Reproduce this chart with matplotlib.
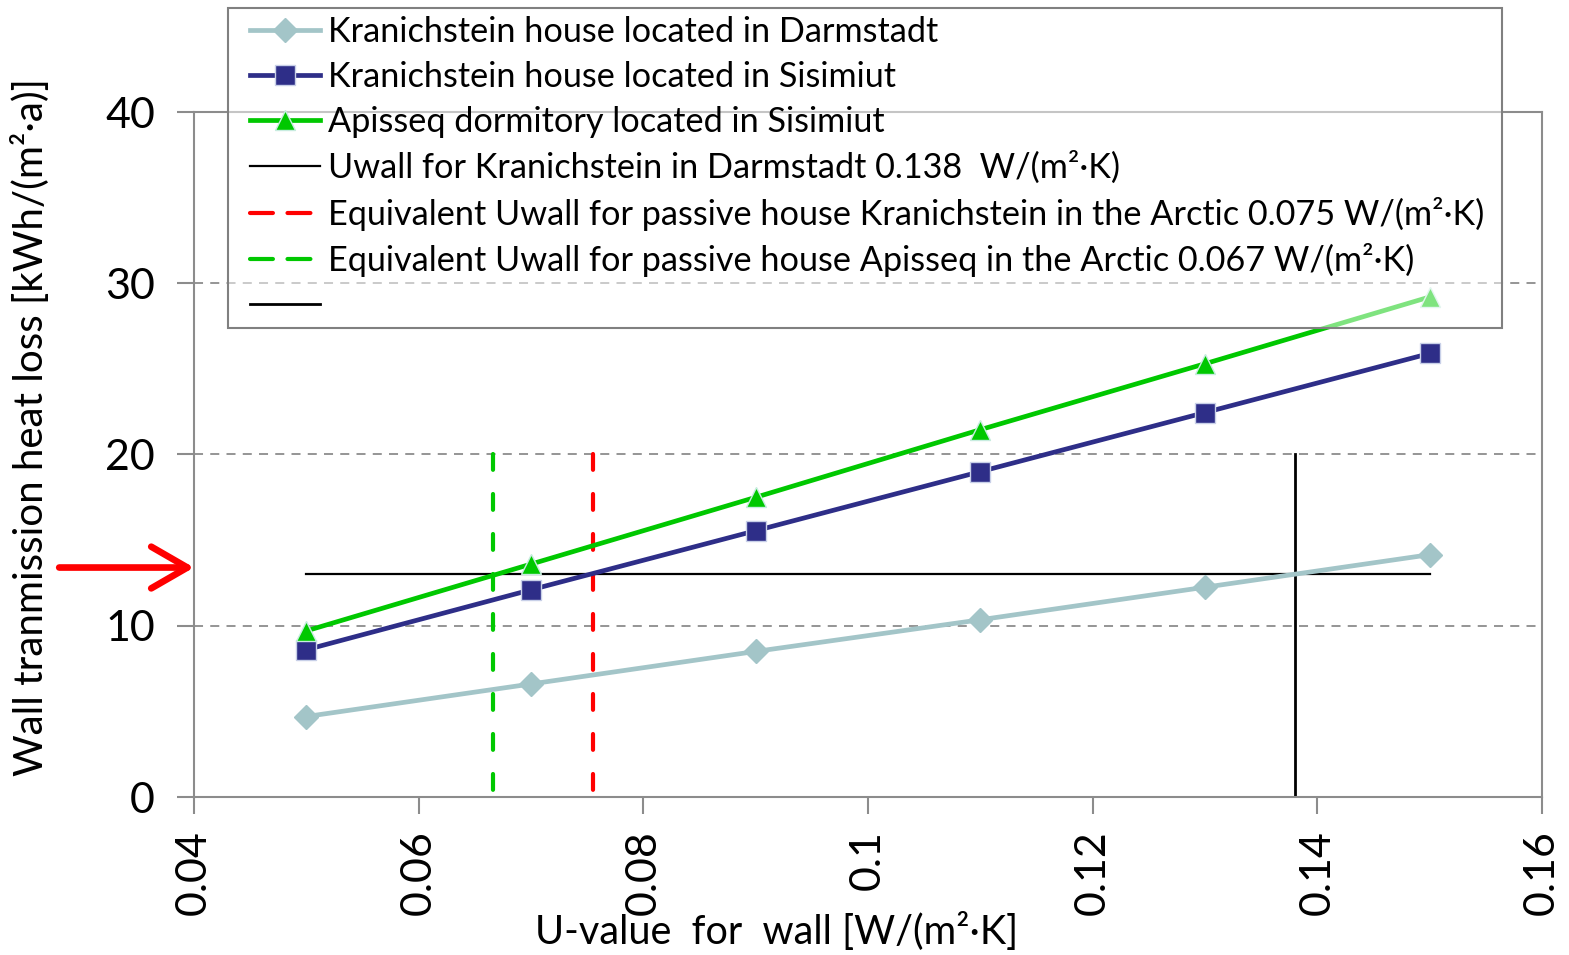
import matplotlib
matplotlib.use("Agg")
import matplotlib.pyplot as plt
from matplotlib.lines import Line2D
from matplotlib.patches import Rectangle

plt.rcParams['font.family'] = ['Lato', 'DejaVu Sans']

# ---- data ----
u_values = [0.05, 0.07, 0.09, 0.11, 0.13, 0.15]
darmstadt = [4.7, 6.6, 8.5, 10.35, 12.25, 14.15]
kran_sisimiut = [8.6, 12.1, 15.55, 19.0, 22.45, 25.9]
apisseq = [9.7, 13.6, 17.5, 21.45, 25.3, 29.2]

target_loss = 13.0
target_x = [0.05, 0.15]
u_darmstadt = 0.138
u_kran_arctic = 0.0755
u_apisseq_arctic = 0.0666
vline_top = 20
arrow_level = 13.4

xticks = [0.04, 0.06, 0.08, 0.10, 0.12, 0.14, 0.16]
xticklabels = ["0.04", "0.06", "0.08", "0.1", "0.12", "0.14", "0.16"]
yticks = [0, 10, 20, 30, 40]

labels = [
    "Kranichstein house located in Darmstadt",
    "Kranichstein house located in Sisimiut",
    "Apisseq dormitory located in Sisimiut",
    "Uwall for Kranichstein in Darmstadt 0.138  W/(m²·K)",
    "Equivalent Uwall for passive house Kranichstein in the Arctic 0.075 W/(m²·K)",
    "Equivalent Uwall for passive house Apisseq in the Arctic 0.067 W/(m²·K)",
    "",
]

# ---- styles ----
c_teal = "#A3C5C8"
c_navy = "#2E2E88"
c_green = "#00C800"
c_red = "#FF0000"
c_grid = "#8C8C8C"
dash_v = (0, (3.8, 5.8))

W, H = 1569, 955
fig = plt.figure(figsize=(W / 100, H / 100), dpi=100)
ax = fig.add_axes([194 / W, 1 - 797 / H, (1542 - 194) / W, (797 - 112) / H])

ax.set_xlim(0.04, 0.16)
ax.set_ylim(0, 40)

for y in yticks[1:]:
    ax.axhline(y, color=c_grid, lw=1.3, ls=(0, (5, 4)), zorder=1)

h1, = ax.plot(u_values, darmstadt, color=c_teal, lw=3.4, marker="D", ms=12,
              mfc=c_teal, mec=c_teal, zorder=3)
h2, = ax.plot(u_values, kran_sisimiut, color=c_navy, lw=3.4, marker="s", ms=14,
              mfc=c_navy, mec="#C8D0E8", mew=1, zorder=3)
h3, = ax.plot(u_values, apisseq, color=c_green, lw=3.4, marker="^", ms=14,
              mfc=c_green, mec="#C8ECE0", mew=1, zorder=3)

h4, = ax.plot(target_x, [target_loss, target_loss], color="black", lw=1.6, zorder=2)
ax.plot([u_darmstadt, u_darmstadt], [0, vline_top], color="black", lw=2.0, zorder=2)
ax.plot([u_kran_arctic, u_kran_arctic], [vline_top, 0], color=c_red, lw=3,
        ls=dash_v, dash_capstyle="round", zorder=2)
ax.plot([u_apisseq_arctic, u_apisseq_arctic], [vline_top, 0], color=c_green, lw=3,
        ls=dash_v, dash_capstyle="round", zorder=2)
h5 = Line2D([], [], color=c_red, lw=3, ls=(0, (5.5, 3.5)), dash_capstyle="round")
h6 = Line2D([], [], color=c_green, lw=3, ls=(0, (5.5, 3.5)), dash_capstyle="round")
h7 = Line2D([], [], color="black", lw=2.0)

# red arrow outside the axes
ax.annotate("", xy=(0.0, arrow_level), xytext=(-0.1, arrow_level),
            xycoords=("axes fraction", "data"), textcoords=("axes fraction", "data"),
            arrowprops=dict(arrowstyle="->,head_length=2.6,head_width=1.5",
                            color=c_red, lw=4.8, shrinkA=0, shrinkB=0,
                            capstyle="round", joinstyle="round"),
            annotation_clip=False)

for s in ax.spines.values():
    s.set_color(c_grid)
    s.set_linewidth(1.5)

ax.set_xticks(xticks)
ax.set_xticklabels(xticklabels, rotation=90)
ax.set_yticks(yticks)
ax.tick_params(axis="both", direction="out", length=12, width=1.5, color=c_grid,
               labelsize=31)
ax.tick_params(axis="y", pad=16)
ax.tick_params(axis="x", pad=12)

ax.set_xlabel("U-value  for  wall [W/(m²·K]", fontsize=28.5)
ax.set_ylabel("Wall tranmission heat loss [kWh/(m²·a)]", fontsize=29)
ax.yaxis.set_label_coords(-0.107, 0.54)
ax.xaxis.set_label_coords(0.432, -0.168)

# legend frame (semi-transparent, drawn over the plot)
frame = Rectangle((228 / W, 1 - 328 / H), (1502 - 228) / W, (328 - 8) / H,
                  transform=fig.transFigure, facecolor=(1, 1, 1, 0.5),
                  edgecolor="#808080", linewidth=1.5, zorder=4)
fig.add_artist(frame)

leg = fig.legend([h1, h2, h3, h4, h5, h6, h7], labels,
                 loc="upper left", bbox_to_anchor=(250 / W, 1 - 16 / H),
                 bbox_transform=fig.transFigure, borderaxespad=0,
                 fontsize=24.7, handlelength=2.05, handletextpad=0.22,
                 labelspacing=0.375, borderpad=0, frameon=False,
                 numpoints=1)
leg.set_zorder(5)

fig.savefig("out.png", dpi=100)
